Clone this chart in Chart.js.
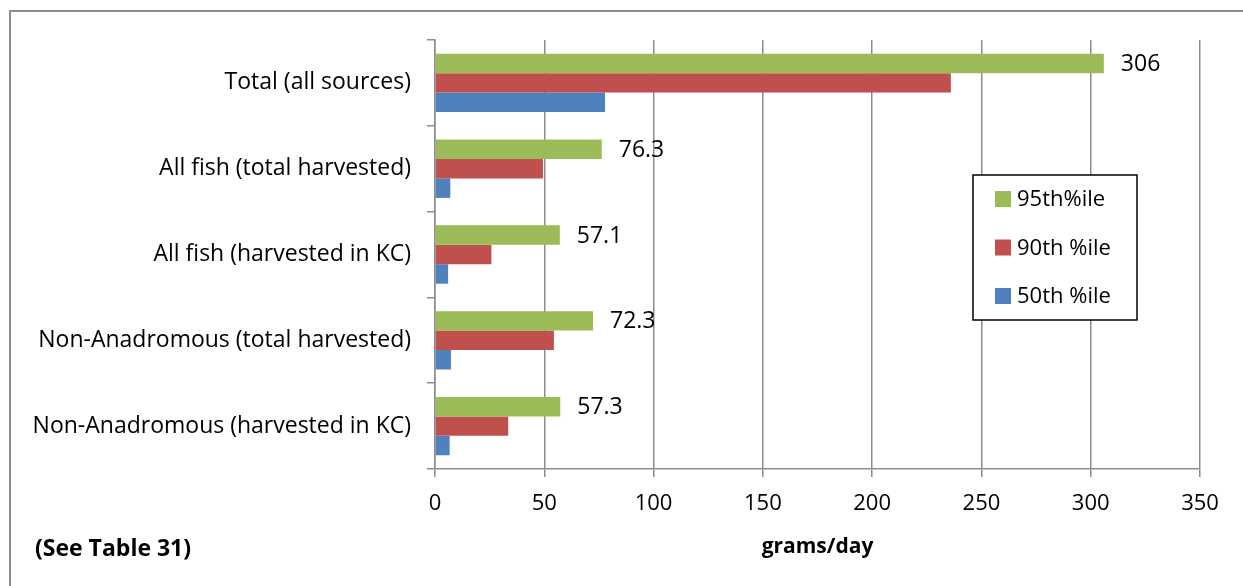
<!DOCTYPE html>
<html>
<head>
<meta charset="utf-8">
<script src="https://cdn.jsdelivr.net/npm/chart.js@4"></script>
<style>
  html, body { margin: 0; padding: 0; background: #fff; }
  #wrap { width: 1243px; height: 586px; }
</style>
</head>
<body>
<div id="wrap"><canvas id="grafico" width="1243" height="586"></canvas></div>
<script>
// categorias e valores
const categorias = [
  'Total (all sources)',
  'All fish (total harvested)',
  'All fish (harvested in KC)',
  'Non-Anadromous (total harvested)',
  'Non-Anadromous (harvested in KC)'
];
const p95 = [306, 76.3, 57.1, 72.3, 57.3];
const p90 = [236, 49.4, 25.8, 54.4, 33.5];
const p50 = [77.8, 7.0, 6.0, 7.3, 6.7];
const nomesSeries = ['95th%ile', '90th %ile', '50th %ile'];
const cores = ['#9BBB59', '#C0504D', '#4F81BD'];
const xTicks = [0, 50, 100, 150, 200, 250, 300, 350];

const fonte = '"Open Sans", Lato, sans-serif';
const cinza = '#8c8c8c';

// fundo, borda externa e nota de rodape
const fundo = {
  id: 'fundo',
  beforeDraw(chart) {
    const c = chart.ctx;
    c.save();
    c.fillStyle = '#fff';
    c.fillRect(0, 0, chart.width, chart.height);
    c.strokeStyle = cinza;
    c.lineWidth = 2;
    c.beginPath();
    c.moveTo(10, chart.height);
    c.lineTo(10, 11);
    c.lineTo(chart.width, 11);
    c.stroke();
    c.fillStyle = '#000';
    c.font = 'bold 23px ' + fonte;
    c.textBaseline = 'middle';
    c.fillText('(See Table 31)', 35, 549);
    c.restore();
  }
};

// rotulos so na serie 95th
const rotulos = {
  id: 'rotulos',
  afterDatasetsDraw(chart) {
    const c = chart.ctx;
    const meta = chart.getDatasetMeta(0);
    c.save();
    c.fillStyle = '#000';
    c.font = '23px ' + fonte;
    c.textBaseline = 'middle';
    meta.data.forEach((bar, i) => {
      c.fillText(String(p95[i]), bar.x + 17, bar.y + 1);
    });
    c.restore();
  }
};

// legenda com caixa dentro da area do grafico
const legenda = {
  id: 'legenda',
  afterDraw(chart) {
    const c = chart.ctx;
    c.save();
    c.fillStyle = '#fff';
    c.fillRect(973, 175, 164, 145);
    c.strokeStyle = '#000';
    c.lineWidth = 1.5;
    c.strokeRect(973, 175, 164, 145);
    c.font = '22px ' + fonte;
    c.textBaseline = 'middle';
    chart.data.datasets.forEach((ds, i) => {
      const y = 199 + i * 48.5;
      c.fillStyle = ds.backgroundColor;
      c.fillRect(995, y - 8, 16, 16);
      c.fillStyle = '#000';
      c.fillText(ds.label, 1017, y + 1);
    });
    c.restore();
  }
};

const ctx = document.getElementById('grafico').getContext('2d');
const chart = new Chart(ctx, {
  type: 'bar',
  data: {
    labels: categorias,
    datasets: [p95, p90, p50].map((d, i) => ({
      label: nomesSeries[i],
      data: d,
      backgroundColor: cores[i],
      categoryPercentage: 0.68,
      barPercentage: 1.0
    }))
  },
  options: {
    indexAxis: 'y',
    responsive: false,
    animation: false,
    layout: { padding: { left: 0, top: 40, right: 43, bottom: 0 } },
    plugins: {
      legend: { display: false },
      tooltip: { enabled: false }
    },
    scales: {
      x: {
        min: 0,
        max: 350,
        afterBuildTicks(scale) { scale.ticks = xTicks.map(v => ({ value: v })); },
        afterFit(scale) { scale.height = 117; },
        grid: { color: cinza, lineWidth: 1.5, tickLength: 8 },
        border: { color: cinza, width: 1.5 },
        ticks: { color: '#000', font: { family: fonte, size: 22 }, padding: 14 },
        title: {
          display: true,
          text: 'grams/day',
          color: '#000',
          font: { family: fonte, size: 21, weight: 'bold' },
          padding: { top: 4, bottom: 26 }
        }
      },
      y: {
        afterFit(scale) { scale.width = 435; },
        grid: { drawOnChartArea: false, color: cinza, lineWidth: 1.5, tickLength: 8 },
        border: { color: cinza, width: 1.5 },
        ticks: { color: '#000', font: { family: fonte, size: 23 }, padding: 16 }
      }
    }
  },
  plugins: [fundo, rotulos, legenda]
});
</script>
</body>
</html>
